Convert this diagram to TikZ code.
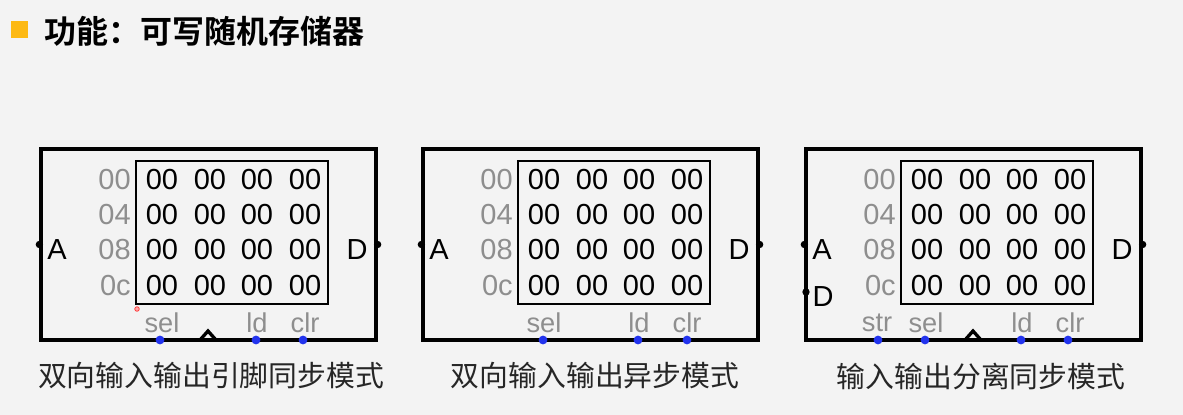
\documentclass[tikz,border=0pt]{standalone}
\usepackage{fontspec}
\setmainfont{Liberation Sans}
\newfontfamily\cjk[BoldFont={Noto Sans CJK SC Bold}]{Noto Sans CJK SC}
\definecolor{addrgray}{HTML}{8E8E8E}
\definecolor{pinblue}{HTML}{2233EE}
\definecolor{markorange}{HTML}{FDB913}
\definecolor{slidebg}{HTML}{F3F3F3}
% one memory block: outer frame, data grid, A and D pins
\newcommand{\rampanel}[1]{%
  \node[outerbox] (#1box) at (208.5,244.5) {};
  \node[innerbox] (#1mem) at (232,232.3) {};
  \foreach \r/\y/\a in {0/180/00,1/215/04,2/250/08,3/286/0c} {
    \node[addr] (#1a\r) at (131,\y) {\a};
    \foreach \c/\x in {0/162,1/210,2/257,3/305}
      \node[cell] (#1c\r\c) at (\x,\y) {00};
  }
  \fill (#1box.west) circle (2.1pt);
  \fill (#1box.east) circle (2.1pt);
  \node[pinlabel] (#1A) at (57,250) {A};
  \node[pinlabel] (#1D) at (357,250) {D};
}

\begin{document}
\begin{tikzpicture}[
    x=0.02cm, y=-0.02cm,
    outerbox/.style={draw, line width=1.9pt, minimum width=6.7cm, minimum height=3.82cm, inner sep=0},
    innerbox/.style={draw, line width=0.9pt, minimum width=3.84cm, minimum height=2.86cm, inner sep=0},
    cell/.style={inner sep=0, font=\fontsize{16.5pt}{16.5pt}\selectfont},
    addr/.style={cell, anchor=east, text=addrgray},
    pinlabel/.style={cell},
    signal/.style={inner sep=0, text=addrgray, font=\fontsize{15.5pt}{15.5pt}\selectfont},
    bluepin/.style={fill=pinblue},
    clockmark/.style={line width=1.9pt, line join=miter},
    caption/.style={inner sep=0, text=black!85, font=\cjk\fontsize{16.4pt}{16.4pt}\selectfont}
  ]
  \fill[slidebg] (0,0) rectangle (1183,415);
  \useasboundingbox (0,0) rectangle (1183,415);

  % title
  \fill[markorange] (11,21) rectangle (28,38);
  \node[inner sep=0, anchor=west, font=\cjk\bfseries\fontsize{18.2pt}{18.2pt}\selectfont] (title) at (44,31) {功能：可写随机存储器};

  % bidirectional, synchronous
  \begin{scope}
    \rampanel{p}
    \node[signal] (psel) at (162,323) {sel};
    \node[signal] (pld) at (257,323) {ld};
    \node[signal] (pclr) at (305,323) {clr};
    \fill[bluepin] (160,340) circle (2.5pt);
    \fill[bluepin] (256,340) circle (2.5pt);
    \fill[bluepin] (303,340) circle (2.5pt);
    \draw[clockmark] (200,340) -- (208,331) -- (216,340);
    \draw[red!80, fill=red!35, line width=0.4pt] (137,309) circle (1.3pt);
  \end{scope}

  % bidirectional, asynchronous
  \begin{scope}[xshift=382*0.02cm]
    \rampanel{q}
    \node[signal] (qsel) at (162,323) {sel};
    \node[signal] (qld) at (257,323) {ld};
    \node[signal] (qclr) at (305,323) {clr};
    \fill[bluepin] (161,340) circle (2.5pt);
    \fill[bluepin] (256,340) circle (2.5pt);
    \fill[bluepin] (305,340) circle (2.5pt);
  \end{scope}

  % separate in / out, synchronous
  \begin{scope}[xshift=765*0.02cm]
    \rampanel{r}
    \fill (41,292) circle (2.1pt);
    \node[pinlabel] (rDin) at (58,297) {D};
    \node[signal] (rstr) at (112,323) {str};
    \node[signal] (rsel) at (161,323) {sel};
    \node[signal] (rld) at (257,323) {ld};
    \node[signal] (rclr) at (305,323) {clr};
    \fill[bluepin] (113,340) circle (2.5pt);
    \fill[bluepin] (160,340) circle (2.5pt);
    \fill[bluepin] (256,340) circle (2.5pt);
    \fill[bluepin] (303,340) circle (2.5pt);
    \draw[clockmark] (200,340) -- (208,331) -- (216,340);
  \end{scope}

  % captions
  \node[caption] (cap1) at (211,376) {双向输入输出引脚同步模式};
  \node[caption] (cap2) at (595,376) {双向输入输出异步模式};
  \node[caption] (cap3) at (981,376) {输入输出分离同步模式};
\end{tikzpicture}
\end{document}
